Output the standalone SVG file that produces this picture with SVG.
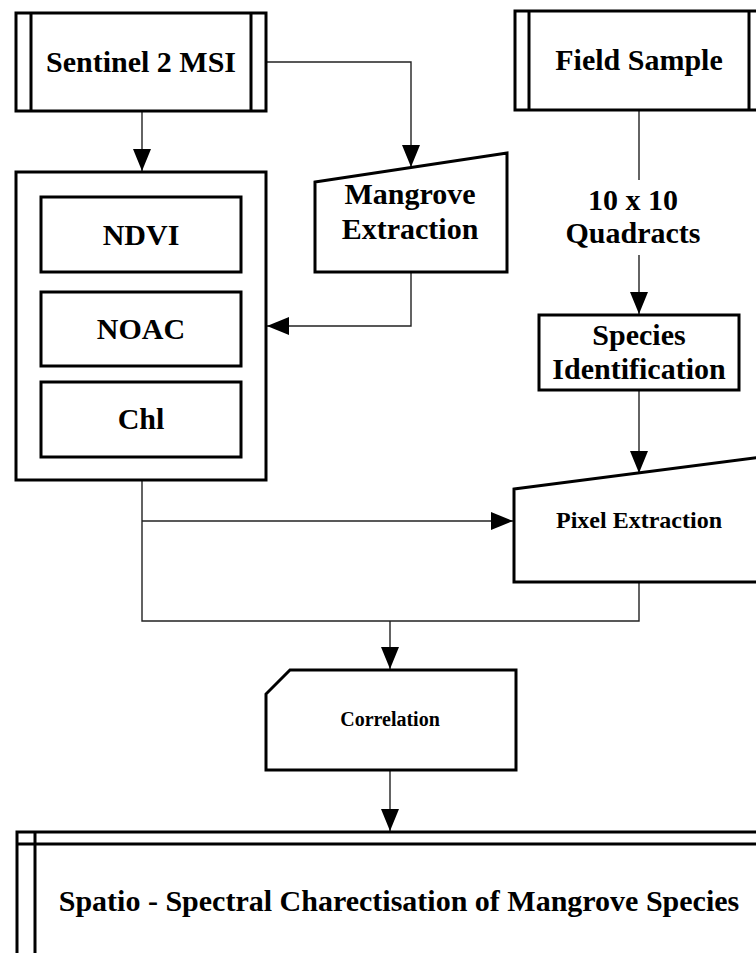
<svg xmlns="http://www.w3.org/2000/svg" width="756" height="953" viewBox="0 0 756 953">
<style>
.box{fill:#fff;stroke:#000;stroke-width:3}
.ln{fill:none;stroke:#000;stroke-width:3}
.c{fill:none;stroke:#222;stroke-width:1.4}
.t{font-family:"Liberation Serif","Times New Roman",serif;font-weight:bold;font-size:30px;text-anchor:middle;fill:#000}
</style>
<defs>
<marker id="ah" markerUnits="userSpaceOnUse" markerWidth="22" markerHeight="18" refX="22" refY="9" orient="auto">
<path d="M0,0 L22,9 L0,18 z" fill="#000"/>
</marker>
</defs>
<rect width="756" height="953" fill="#fff"/>
<g id="connectors">
<path class="c" d="M142,111 V171" marker-end="url(#ah)"/>
<path class="c" d="M266,62 H411 V167" marker-end="url(#ah)"/>
<path class="c" d="M411,272 V326 H267" marker-end="url(#ah)"/>
<path class="c" d="M639,110 V180"/>
<path class="c" d="M639,255 V314" marker-end="url(#ah)"/>
<path class="c" d="M639,390 V473" marker-end="url(#ah)"/>
<path class="c" d="M142,480 V621 H639 V582"/>
<path class="c" d="M142,521 H513" marker-end="url(#ah)"/>
<path class="c" d="M390,621 V669" marker-end="url(#ah)"/>
<path class="c" d="M390,770 V831" marker-end="url(#ah)"/>
</g>
<g id="sentinel">
<rect class="box" x="16" y="13" width="250" height="98"/>
<path class="ln" d="M31,13 V111 M251,13 V111"/>
<text class="t" x="141" y="72">Sentinel 2 MSI</text>
</g>
<g id="field-sample">
<rect class="box" x="515" y="11" width="248" height="99"/>
<path class="ln" d="M529,11 V110 M749,11 V110"/>
<text class="t" x="639" y="70">Field Sample</text>
</g>
<g id="mangrove-extraction">
<path class="box" d="M315,182 L507,153 L507,272 L315,272 Z"/>
<text class="t" x="410" y="204">Mangrove</text>
<text class="t" x="410" y="239">Extraction</text>
</g>
<g id="indices">
<rect class="box" x="16" y="172" width="250" height="308"/>
<g id="ndvi">
<rect class="box" x="41" y="197" width="200" height="75"/>
<text class="t" x="141" y="245">NDVI</text>
</g>
<g id="noac">
<rect class="box" x="41" y="292" width="200" height="74"/>
<text class="t" x="141" y="339">NOAC</text>
</g>
<g id="chl">
<rect class="box" x="41" y="382" width="200" height="75"/>
<text class="t" x="141" y="429">Chl</text>
</g>
</g>
<g id="quadracts">
<text class="t" x="633" y="210">10 x 10</text>
<text class="t" x="633" y="243">Quadracts</text>
</g>
<g id="species-identification">
<rect class="box" x="539" y="315" width="200" height="75"/>
<text class="t" x="639" y="345">Species</text>
<text class="t" x="639" y="379">Identification</text>
</g>
<g id="pixel-extraction">
<path class="box" d="M514,489 L762,457 L762,582 L514,582 Z"/>
<text class="t" x="639" y="528" style="font-size:24px">Pixel Extraction</text>
</g>
<g id="correlation">
<path class="box" d="M290,670 L516,670 L516,770 L266,770 L266,694 Z"/>
<text class="t" x="390" y="726" style="font-size:20px">Correlation</text>
</g>
<g id="result">
<rect class="box" x="17" y="832" width="750" height="140"/>
<path class="ln" d="M17,844 H767 M35,832 V960"/>
<text class="t" x="399" y="911">Spatio - Spectral Charectisation of Mangrove Species</text>
</g>
</svg>
